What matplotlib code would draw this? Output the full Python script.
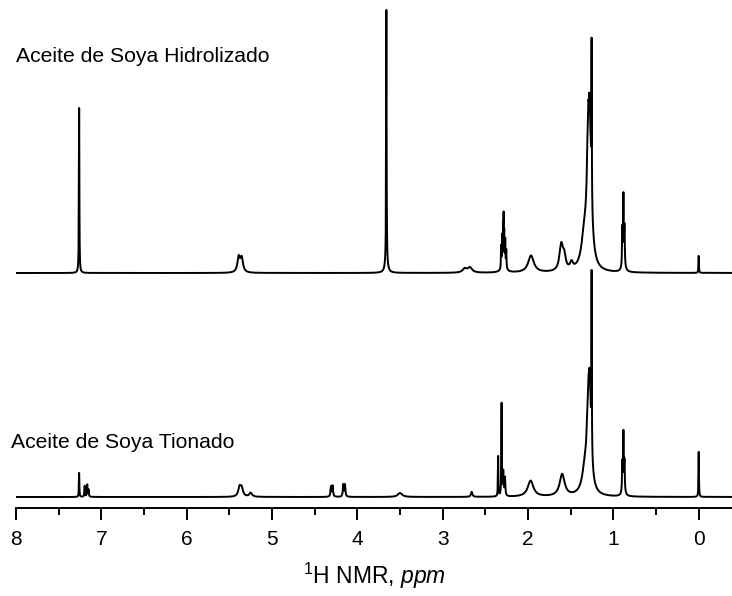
import numpy as np
import matplotlib.pyplot as plt

plt.rcParams['font.family'] = 'Liberation Sans'
plt.rcParams['mathtext.fontset'] = 'custom'
plt.rcParams['mathtext.rm'] = 'Liberation Sans'
plt.rcParams['mathtext.it'] = 'Liberation Sans:italic'

# Tabla de picos: desplazamiento (ppm), altura, semiancho (ppm)
# Aceite de Soya Hidrolizado
hidro_ppm = [7.26, 5.39, 5.355, 3.66, 3.66, 2.74, 2.68,
             2.315, 2.303, 2.291, 2.286, 2.279, 2.267, 2.255, 2.285,
             1.965, 1.61, 1.575, 1.49,
             1.34, 1.30, 1.28, 1.292, 1.283, 1.274, 1.265, 1.255,
             0.895, 0.882, 0.87, 0.88, 0.0]
hidro_int = [165, 15, 14, 255, 8, 4, 5,
             22, 30, 32, 40, 30, 26, 18, 6,
             17, 26, 12, 7,
             30, 50, 140, 10, 12, 10, 10, 155,
             38, 65, 38, 8, 17]
hidro_hw = [0.003, 0.018, 0.018, 0.003, 0.02, 0.03, 0.03,
            0.003, 0.003, 0.003, 0.0025, 0.003, 0.003, 0.003, 0.03,
            0.04, 0.025, 0.02, 0.02,
            0.04, 0.012, 0.025, 0.003, 0.003, 0.003, 0.003, 0.0025,
            0.004, 0.003, 0.004, 0.02, 0.003]

# Aceite de Soya Tionado
tion_ppm = [7.26, 7.195, 7.165, 7.15, 5.38, 5.355, 5.25,
            4.31, 4.29, 4.165, 4.145, 3.5, 2.66,
            2.35, 2.31, 2.29, 2.27,
            1.97, 1.60,
            1.33, 1.30, 1.28, 1.29, 1.28, 1.27, 1.255,
            0.895, 0.882, 0.87, 0.88, 0.0]
tion_int = [24, 11, 12, 7, 9, 8, 4,
            10, 11, 12, 12, 4, 5,
            40, 92, 24, 18,
            16, 22,
            25, 30, 100, 8, 8, 10, 175,
            30, 55, 30, 6, 45]
tion_hw = [0.003, 0.004, 0.004, 0.004, 0.018, 0.018, 0.02,
           0.006, 0.006, 0.006, 0.006, 0.03, 0.01,
           0.003, 0.003, 0.005, 0.005,
           0.04, 0.035,
           0.04, 0.012, 0.022, 0.003, 0.003, 0.003, 0.0025,
           0.004, 0.003, 0.004, 0.02, 0.003]

desplazamiento = 224  # separacion vertical entre espectros

ppm = np.arange(-0.5, 8.1, 0.0005)


def espectro(pos, alt, ancho):
    y = np.zeros_like(ppm)
    for p, h, w in zip(pos, alt, ancho):
        y += h * w ** 2 / ((ppm - p) ** 2 + w ** 2)
    return y


fig = plt.figure(figsize=(7.32, 5.96), dpi=100)
ax = fig.add_axes([16 / 732, 88 / 596, 1 - 16 / 732, 508 / 596])

ax.plot(ppm, espectro(tion_ppm, tion_int, tion_hw), color='black', lw=1.4)
ax.plot(ppm, espectro(hidro_ppm, hidro_int, hidro_hw) + desplazamiento,
        color='black', lw=1.4)

ax.set_xlim(8, -0.39)
ax.set_ylim(-11, 497)

for lado in ['top', 'right', 'left']:
    ax.spines[lado].set_visible(False)
ax.spines['bottom'].set_linewidth(1.4)
ax.set_yticks([])
ax.set_xticks(np.arange(0, 9, 1))
ax.set_xticks(np.arange(0.5, 8, 0.5), minor=True)
ax.tick_params(axis='x', which='major', direction='out', length=8.6, width=1.4,
               pad=7, labelsize=15)
ax.tick_params(axis='x', which='minor', direction='out', length=5, width=1.4)

ax.set_xlabel(r'$^{\mathregular{1}}$H NMR, $\mathit{ppm}$', fontsize=16.5, labelpad=9)

fig.text(16 / 732, 1 - 57 / 596, 'Aceite de Soya Hidrolizado', fontsize=15.2, va='center')
fig.text(11 / 732, 1 - 442 / 596, 'Aceite de Soya Tionado', fontsize=15.2, va='center')

fig.savefig('out.png', dpi=100)
